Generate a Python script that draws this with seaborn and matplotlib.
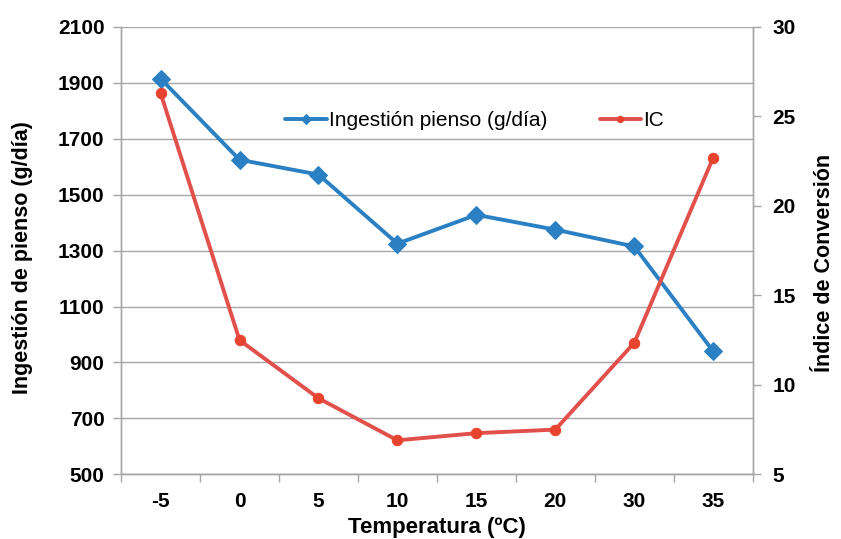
import matplotlib
matplotlib.use("Agg")
import matplotlib.pyplot as plt
import seaborn as sns
import numpy as np
import pandas as pd

categories = ["-5", "0", "5", "10", "15", "20", "30", "35"]
ingestion = [1915, 1625, 1572, 1325, 1428, 1375, 1315, 940]
ic = [26.3, 12.5, 9.25, 6.9, 7.3, 7.5, 12.35, 22.7]
left_ticks = [500, 700, 900, 1100, 1300, 1500, 1700, 1900, 2100]
right_ticks = [5, 10, 15, 20, 25, 30]

sns.set_theme(style="white")
plt.rcParams['font.family'] = ['Liberation Sans', 'DejaVu Sans']
plt.rcParams['text.color'] = 'black'
plt.rcParams['axes.labelcolor'] = 'black'

df = pd.DataFrame({"pos": np.arange(len(categories)), "ing": ingestion, "ic": ic})

BLUE = "#2B80C3"
RED_LINE = "#E2504B"
RED_MARK = "#E8432F"
GRID = "#A6A6A6"

fig, ax = plt.subplots(figsize=(8.41, 5.39), dpi=100)
fig.subplots_adjust(left=0.144, right=0.895, top=0.95, bottom=0.12)
ax2 = ax.twinx()

sns.lineplot(data=df, x="pos", y="ing", ax=ax, color=BLUE, linewidth=2.8,
             marker="D", markersize=9, markeredgecolor=BLUE, markerfacecolor=BLUE,
             label="Ingestión pienso (g/día)", legend=False, zorder=3)
sns.lineplot(data=df, x="pos", y="ic", ax=ax2, color=RED_LINE, linewidth=2.8,
             marker="o", markersize=7.5, markeredgecolor=RED_MARK, markerfacecolor=RED_MARK,
             label="IC", legend=False, zorder=3)

ax.set_xlim(-0.5, len(categories) - 0.5)
ax.set_ylim(500, 2100)
ax2.set_ylim(5, 30)
ax.set_yticks(left_ticks)
ax2.set_yticks(right_ticks)
ax.set_xticks(np.arange(len(categories)))
ax.set_xticklabels(categories)
ax.set_xticks(np.arange(-0.5, len(categories), 1.0), minor=True)
ax.tick_params(axis="x", which="major", length=0, pad=13)
ax.tick_params(axis="x", which="minor", length=6, width=1, color=GRID, direction="out", bottom=True)
ax.tick_params(axis="y", length=6, width=1, color=GRID, direction="out", left=True, pad=6)
ax2.tick_params(axis="y", length=6, width=1, color=GRID, direction="out", right=True, pad=8)

for a in (ax, ax2):
    for lab in a.get_xticklabels() + a.get_yticklabels():
        lab.set_fontweight("bold")
        lab.set_fontsize(15)
        lab.set_color("#000000")

ax.yaxis.grid(True, color=GRID, linewidth=1)
ax.xaxis.grid(False)
ax2.grid(False)
ax.set_axisbelow(True)

for a in (ax, ax2):
    a.spines["top"].set_visible(False)
    for s in ("left", "right", "bottom"):
        a.spines[s].set_color(GRID)
        a.spines[s].set_linewidth(1)

ax.set_xlabel("Temperatura (ºC)", fontsize=16, fontweight="bold", labelpad=4, color="black")
ax.set_ylabel("Ingestión de pienso (g/día)", fontsize=15.5, fontweight="bold", color="black")
ax2.set_ylabel("Índice de Conversión", fontsize=15.5, fontweight="bold", color="black")
ax.yaxis.set_label_coords(-0.139, 0.485)
ax2.yaxis.set_label_coords(1.097, 0.472)

h1, l1 = ax.get_legend_handles_labels()
h2, l2 = ax2.get_legend_handles_labels()
leg = ax.legend(h1 + h2, l1 + l2, loc="center", bbox_to_anchor=(0.56, 0.79),
                ncol=2, frameon=False, fontsize=15, handlelength=2.0,
                handletextpad=0.1, columnspacing=2.5, markerscale=0.6)
for t in leg.get_texts():
    t.set_color("black")

fig.savefig("out.png", dpi=100)
